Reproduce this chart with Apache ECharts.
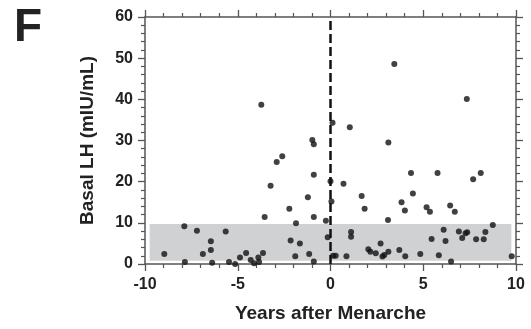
<!DOCTYPE html>
<html><head><meta charset="utf-8">
<script src="https://cdn.jsdelivr.net/npm/echarts@6/dist/echarts.min.js"></script>
<style>html,body{margin:0;padding:0;background:#fff}#c{width:531px;height:329px}</style>
</head><body><div id="c"></div>
<script>
// Years after menarche (x) and basal LH (y)
const yearsAfterMenarche = [-8.96,-7.88,-7.85,-7.2,-6.88,-6.45,-6.45,-6.38,-5.65,-5.47,-5.14,-4.88,-4.55,-4.3,-4.12,-3.89,-3.85,-3.73,-3.64,-3.55,-3.23,-2.9,-2.6,-2.22,-2.15,-1.9,-1.86,-1.65,-1.22,-1.15,-0.98,-0.9,-0.9,-0.9,-0.9,-0.25,-0.15,0.0,0.05,0.11,0.14,0.28,0.7,0.86,1.04,1.11,1.11,1.68,1.84,2.04,2.15,2.44,2.7,2.8,2.9,3.1,3.12,3.12,3.44,3.71,3.83,4.01,4.03,4.34,4.44,4.84,5.18,5.36,5.45,5.77,5.84,6.1,6.2,6.45,6.5,6.7,6.92,7.1,7.28,7.37,7.35,7.69,7.85,8.1,8.26,8.35,8.75,9.77];
const basalLH = [2.4,9.2,0.5,8.1,2.4,5.5,3.4,0.3,7.9,0.5,0.0,1.6,2.7,1.0,0.2,1.6,0.5,38.7,2.7,11.4,19.0,24.8,26.2,13.4,5.7,1.9,9.9,5.0,16.2,2.4,30.1,29.1,21.7,11.4,0.6,10.5,6.5,20.1,15.2,34.3,2.0,2.0,19.5,1.9,33.2,7.8,6.6,16.5,13.4,3.6,3.0,2.6,5.0,1.8,2.2,10.7,29.5,3.0,48.6,3.4,15.0,13.0,1.9,22.1,17.1,2.4,13.8,12.7,6.1,22.1,2.1,8.3,5.6,14.2,0.6,12.7,7.9,6.3,7.5,7.7,40.1,20.6,6.0,22.1,6.0,7.8,9.5,1.9];
// Reference band (x range, y range)
const bandX = [-9.75, 9.75];
const bandY = [0.8, 9.7];
const menarcheLineX = 0;
const xTicks = [-10, -5, 0, 5, 10];
const yTicks = [0, 10, 20, 30, 40, 50, 60];

const points = yearsAfterMenarche.map((x, i) => [x, basalLH[i]]);
const axColor = '#555';
const txtColor = '#222';
const font = 'Liberation Sans';
function axisBase(extra) {
  return Object.assign({
    axisLine: {show: true, onZero: false, lineStyle: {color: axColor, width: 1.5}},
    axisTick: {show: true, inside: false, length: 7, lineStyle: {color: axColor, width: 1.3}},
    minorTick: {show: true, splitNumber: 5, length: 4, lineStyle: {color: axColor, width: 1.2}},
    splitLine: {show: false},
    minorSplitLine: {show: false}
  }, extra);
}
const chart = echarts.init(document.getElementById('c'));
chart.setOption({
  animation: false,
  backgroundColor: '#fff',
  grid: {left: 145, right: 15, top: 17, bottom: 65},
  graphic: [{type: 'text', left: 14, top: 5, style: {text: 'F', font: 'bold 46px "Liberation Sans"', fill: '#222'}}],
  xAxis: [
    axisBase({type: 'value', position: 'bottom', min: xTicks[0], max: xTicks[xTicks.length-1], interval: 5,
      name: 'Years after Menarche', nameLocation: 'middle', nameGap: 40,
      nameTextStyle: {fontFamily: font, fontWeight: 'bold', fontSize: 19, color: txtColor},
      axisLabel: {margin: 13, fontFamily: font, fontWeight: 'bold', fontSize: 16, color: txtColor}}),
    axisBase({type: 'value', position: 'top', min: xTicks[0], max: xTicks[xTicks.length-1], interval: 5,
      axisLabel: {show: false}})
  ],
  yAxis: [
    axisBase({type: 'value', position: 'left', min: yTicks[0], max: yTicks[yTicks.length-1], interval: 10,
      name: 'Basal LH (mIU/mL)', nameLocation: 'middle', nameGap: 48,
      nameTextStyle: {fontFamily: font, fontWeight: 'bold', fontSize: 19, color: txtColor},
      axisLabel: {margin: 12, fontFamily: font, fontWeight: 'bold', fontSize: 16, color: txtColor}}),
    axisBase({type: 'value', position: 'right', min: yTicks[0], max: yTicks[yTicks.length-1], interval: 10,
      axisLabel: {show: false}})
  ],
  series: [{
    type: 'scatter',
    xAxisIndex: 0, yAxisIndex: 0,
    data: points,
    symbolSize: 6,
    itemStyle: {color: '#111'},
    z: 5,
    markArea: {
      silent: true,
      itemStyle: {color: '#d0d1d3'},
      data: [[{coord: [bandX[0], bandY[0]]}, {coord: [bandX[1], bandY[1]]}]]
    },
    markLine: {
      silent: true, symbol: 'none', label: {show: false},
      lineStyle: {color: '#111', type: [9, 4], width: 2.5},
      data: [{xAxis: menarcheLineX}]
    }
  }]
});
</script></body></html>
